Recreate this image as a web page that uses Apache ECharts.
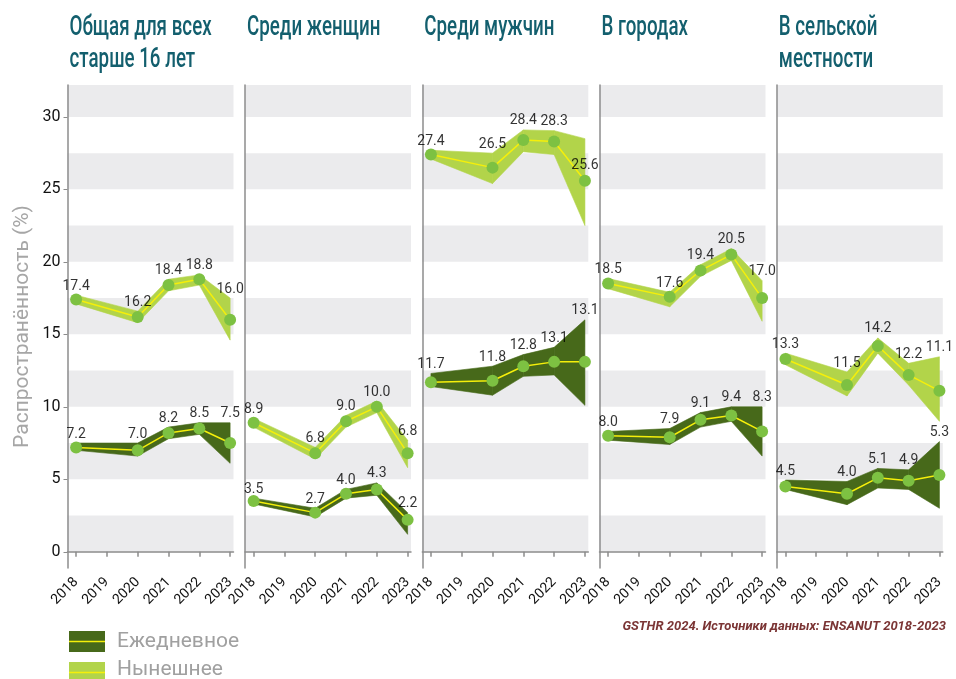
<!DOCTYPE html>
<html>
<head>
<meta charset="utf-8">
<script src="https://cdn.jsdelivr.net/npm/echarts@6/dist/echarts.min.js"></script>
<style>
  html, body { margin: 0; padding: 0; background: #fff; }
  #chart { width: 956px; height: 679px; }
</style>
</head>
<body>
<div id="chart"></div>
<script>
// panels, left to right
const panelTitles = ['Общая для всех\nстарше 16 лет', 'Среди женщин', 'Среди мужчин', 'В городах', 'В сельской\nместности']
const years = [2018, 2020, 2021, 2022, 2023]
const yearTicks = [2018, 2019, 2020, 2021, 2022, 2023]
const yTicks = [0, 5, 10, 15, 20, 25, 30]

// Нынешнее (current): point, band low, band high, printed label
const curMid = [
  [17.4, 16.2, 18.4, 18.8, 16.0],
  [8.9, 6.8, 9.0, 10.0, 6.8],
  [27.4, 26.5, 28.4, 28.3, 25.6],
  [18.5, 17.6, 19.4, 20.5, 17.5],
  [13.3, 11.5, 14.2, 12.2, 11.1]
]
const curLo = [
  [17.1, 15.8, 18.0, 18.4, 14.6],
  [8.6, 6.4, 8.6, 9.6, 5.8],
  [27.1, 25.4, 27.6, 27.4, 22.5],
  [18.15, 16.9, 19.0, 20.1, 15.9],
  [12.9, 10.75, 13.7, 11.5, 9.0]
]
const curHi = [
  [17.7, 16.6, 18.8, 19.1, 17.5],
  [9.2, 7.2, 9.4, 10.4, 7.7],
  [27.7, 27.5, 29.1, 29.05, 28.5],
  [18.85, 17.9, 19.8, 20.9, 18.7],
  [13.7, 12.4, 14.75, 13.0, 13.45]
]
const curShown = [
  [17.4, 16.2, 18.4, 18.8, 16.0],
  [8.9, 6.8, 9.0, 10.0, 6.8],
  [27.4, 26.5, 28.4, 28.3, 25.6],
  [18.5, 17.6, 19.4, 20.5, 17.0],
  [13.3, 11.5, 14.2, 12.2, 11.1]
]

// Ежедневное (daily)
const dayMid = [
  [7.2, 7.0, 8.2, 8.5, 7.5],
  [3.5, 2.7, 4.0, 4.3, 2.2],
  [11.7, 11.8, 12.8, 13.1, 13.1],
  [8.0, 7.9, 9.1, 9.4, 8.3],
  [4.5, 4.0, 5.1, 4.9, 5.3]
]
const dayLo = [
  [7.0, 6.6, 7.8, 8.1, 6.1],
  [3.3, 2.4, 3.7, 3.9, 1.2],
  [11.4, 10.8, 12.1, 12.2, 10.1],
  [7.7, 7.4, 8.6, 9.0, 6.6],
  [4.3, 3.25, 4.4, 4.3, 3.0]
]
const dayHi = [
  [7.5, 7.5, 8.6, 8.9, 8.9],
  [3.7, 3.0, 4.3, 4.75, 2.7],
  [12.3, 12.8, 13.6, 14.1, 16.0],
  [8.3, 8.5, 9.6, 10.0, 10.0],
  [4.95, 4.85, 5.75, 5.65, 7.6]
]

// alternating grey bands
const bandFrom = [0, 5, 10, 15, 20, 25, 30]
const bandTo = [2.5, 7.5, 12.5, 17.5, 22.5, 27.5, 32.2]

const Y_MIN = -1.12
const Y_MAX = 32.2
const gridLefts = [67.5, 245, 422.3, 599.5, 776.8]

const C_DAY = '#47691a'
const C_CUR = '#b2d44a'
const C_DOT = '#7dc142'
const C_LINE = '#f5ef0a'
const FONT = 'Roboto, sans-serif'

// labels that were pushed off the band top in the original (px down)
const labelNudge = { 'cur-2-4': 36 }

const grids = []
const xAxes = []
const yAxes = []
const series = []
const graphics = []

function bandItem(params, api) {
  const a0 = api.coord([api.value(0), api.value(1)])
  const a1 = api.coord([api.value(0), api.value(2)])
  const b1 = api.coord([api.value(3), api.value(5)])
  const b0 = api.coord([api.value(3), api.value(4)])
  const color = api.visual('color')
  return {
    type: 'polygon',
    shape: { points: [a0, a1, b1, b0] },
    style: { fill: color, stroke: color, lineWidth: 0.6 }
  }
}

gridLefts.forEach((left, i) => {
  grids.push({ left: left, top: 85, width: 166, height: 483 })
  // condensed title look: squeeze Roboto horizontally
  graphics.push({
    type: 'text',
    x: left + 2,
    y: 12,
    scaleX: 0.67,
    style: {
      text: panelTitles[i],
      font: '500 28px Roboto, sans-serif',
      lineHeight: 32,
      fill: '#135f6e',
      textVerticalAlign: 'top'
    }
  })
  xAxes.push({
    type: 'value',
    gridIndex: i,
    min: 2017.72,
    max: 2023.11,
    z: 5,
    splitLine: { show: false },
    axisLine: { show: true, lineStyle: { color: '#8c8c8c', width: 1.5 } },
    axisTick: { show: true, customValues: yearTicks, length: 5, lineStyle: { color: '#8c8c8c', width: 1.5 } },
    axisLabel: {
      customValues: yearTicks,
      rotate: 45,
      margin: 12,
      fontFamily: FONT,
      fontSize: 14,
      color: '#111',
      formatter: v => String(v)
    }
  })
  yAxes.push({
    type: 'value',
    gridIndex: i,
    min: Y_MIN,
    max: Y_MAX,
    z: 5,
    name: i === 0 ? 'Распространённость (%)' : '',
    nameLocation: 'middle',
    nameGap: 34,
    nameRotate: 90,
    nameTextStyle: { fontFamily: FONT, fontSize: 21, color: '#a6a6a6' },
    splitLine: { show: false },
    axisLine: { show: true, lineStyle: { color: '#8c8c8c', width: 1.5 } },
    axisTick: { show: i === 0, customValues: yTicks, length: 4, lineStyle: { color: '#8c8c8c' } },
    axisLabel: {
      show: i === 0,
      customValues: yTicks,
      margin: 7,
      fontFamily: FONT,
      fontSize: 16,
      color: '#111'
    }
  })

  const pairs = [
    { key: 'day', mid: dayMid[i], lo: dayLo[i], hi: dayHi[i], shown: dayMid[i], color: C_DAY },
    { key: 'cur', mid: curMid[i], lo: curLo[i], hi: curHi[i], shown: curShown[i], color: C_CUR }
  ]

  pairs.forEach((p, k) => {
    // confidence band, one quad per segment
    const segs = []
    for (let j = 0; j < years.length - 1; j++) {
      segs.push([years[j], p.lo[j], p.hi[j], years[j + 1], p.lo[j + 1], p.hi[j + 1]])
    }
    const band = {
      type: 'custom',
      xAxisIndex: i,
      yAxisIndex: i,
      silent: true,
      z: 2,
      itemStyle: { color: p.color },
      encode: { x: [0, 3], y: [1, 2, 4, 5] },
      renderItem: bandItem,
      data: segs
    }
    if (k === 0) {
      band.markArea = {
        silent: true,
        itemStyle: { color: '#ebebed' },
        data: bandFrom.map((b, j) => [{ yAxis: b }, { yAxis: bandTo[j] }])
      }
    }
    series.push(band)
    // central line with dots
    series.push({
      type: 'line',
      xAxisIndex: i,
      yAxisIndex: i,
      symbol: 'circle',
      symbolSize: 12,
      itemStyle: { color: C_DOT },
      lineStyle: { color: C_LINE, width: 1.5 },
      z: 4,
      data: years.map((y, j) => [y, p.mid[j]])
    })
    // value labels just above the band top
    series.push({
      type: 'scatter',
      xAxisIndex: i,
      yAxisIndex: i,
      symbolSize: 2,
      itemStyle: { color: 'transparent' },
      silent: true,
      z: 6,
      label: {
        show: true,
        position: 'inside',
        fontFamily: FONT,
        fontSize: 14,
        color: '#000',
        textBorderWidth: 0,
        formatter: prm => p.shown[prm.dataIndex].toFixed(1)
      },
      data: years.map((y, j) => {
        const nudge = labelNudge[p.key + '-' + i + '-' + j] || 0
        return { value: [y, p.hi[j]], label: { offset: [0, nudge - 9] } }
      })
    })
  })
})

graphics.push(
  { type: 'rect', left: 69, top: 631, shape: { width: 36, height: 21 }, style: { fill: C_DAY } },
  { type: 'line', shape: { x1: 69, y1: 641.5, x2: 105, y2: 641.5 }, style: { stroke: C_LINE, lineWidth: 1.5 } },
  { type: 'rect', left: 69, top: 662, shape: { width: 36, height: 21 }, style: { fill: C_CUR } },
  { type: 'line', shape: { x1: 69, y1: 672.5, x2: 105, y2: 672.5 }, style: { stroke: C_LINE, lineWidth: 1.5 } },
  { type: 'text', left: 117, top: 631, style: { text: 'Ежедневное', font: '21px Roboto, sans-serif', fill: '#a0a0a0' } },
  { type: 'text', left: 117, top: 659, style: { text: 'Нынешнее', font: '21px Roboto, sans-serif', fill: '#a0a0a0' } },
  {
    type: 'text',
    right: 10,
    top: 620,
    style: {
      text: 'GSTHR 2024. Источники данных: ENSANUT 2018-2023',
      font: 'italic bold 13px Roboto, sans-serif',
      fill: '#7b3535'
    }
  }
)

const chart = echarts.init(document.getElementById('chart'))
chart.setOption({
  animation: false,
  grid: grids,
  xAxis: xAxes,
  yAxis: yAxes,
  series: series,
  graphic: graphics
})
</script>
</body>
</html>
